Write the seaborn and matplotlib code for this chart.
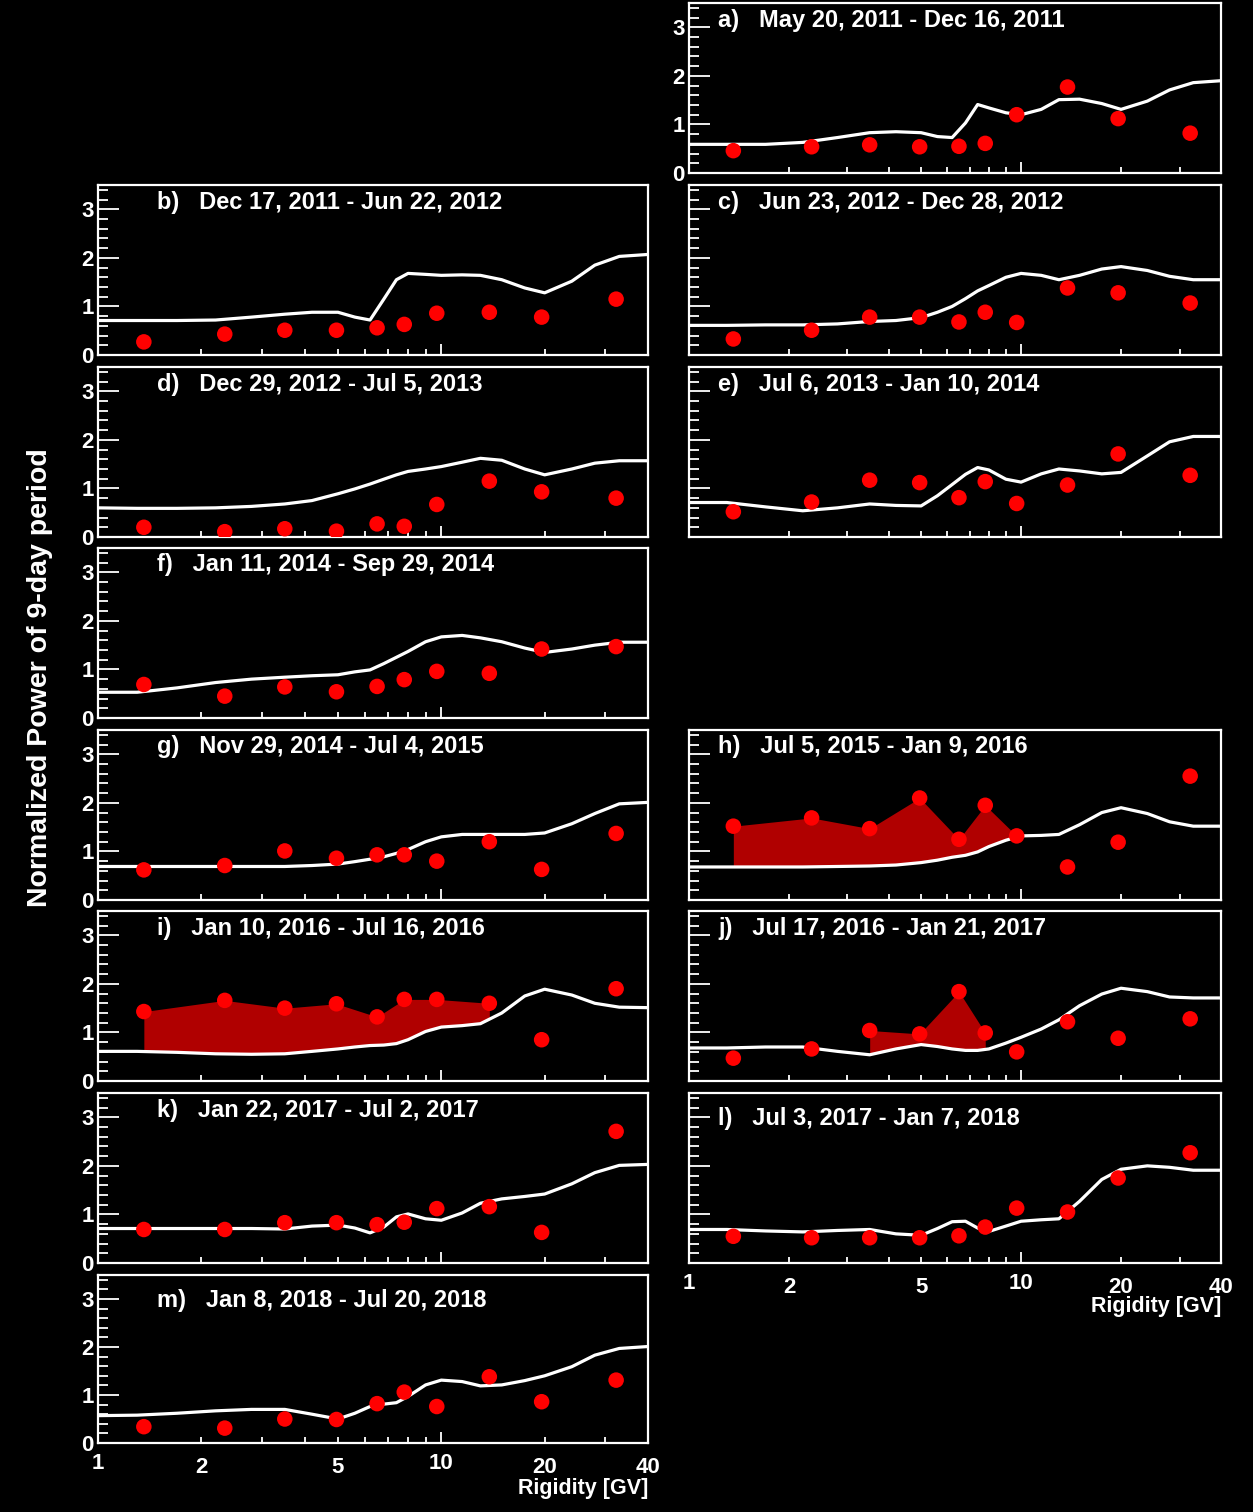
import numpy as np
import pandas as pd
import matplotlib
matplotlib.use("Agg")
import matplotlib.pyplot as plt
from matplotlib.ticker import FixedLocator, FixedFormatter, NullFormatter
import seaborn as sns

# ---------------- data ----------------
RIGIDITY = [1.36, 2.34, 3.5, 4.95, 6.5, 7.8, 9.7, 13.8, 19.6, 32.3]
CURVE_R = [1.0, 1.3, 1.7, 2.2, 2.8, 3.5, 4.2, 5.0, 5.6, 6.2, 6.8, 7.4, 8.0,
           9.0, 10, 11.5, 13, 15, 17.5, 20, 24, 28, 33, 40]

DATES_A = "May 20, 2011 - Dec 16, 2011"
DATES_B = "Dec 17, 2011 - Jun 22, 2012"
DATES_C = "Jun 23, 2012 - Dec 28, 2012"
DATES_D = "Dec 29, 2012 - Jul 5, 2013"
DATES_E = "Jul 6, 2013 - Jan 10, 2014"
DATES_F = "Jan 11, 2014 - Sep 29, 2014"
DATES_G = "Nov 29, 2014 - Jul 4, 2015"
DATES_H = "Jul 5, 2015 - Jan 9, 2016"
DATES_I = "Jan 10, 2016 - Jul 16, 2016"
DATES_J = "Jul 17, 2016 - Jan 21, 2017"
DATES_K = "Jan 22, 2017 - Jul 2, 2017"
DATES_L = "Jul 3, 2017 - Jan 7, 2018"
DATES_M = "Jan 8, 2018 - Jul 20, 2018"

POINTS_A = [0.46, 0.54, 0.58, 0.54, 0.55, 0.61, 1.20, 1.77, 1.12, 0.82]
POINTS_B = [0.27, 0.43, 0.51, 0.51, 0.56, 0.63, 0.86, 0.88, 0.78, 1.15]
POINTS_C = [0.33, 0.51, 0.78, 0.78, 0.68, 0.88, 0.67, 1.38, 1.28, 1.07]
POINTS_D = [0.20, 0.11, 0.17, 0.12, 0.27, 0.22, 0.67, 1.15, 0.93, 0.80]
POINTS_E = [0.52, 0.72, 1.17, 1.12, 0.81, 1.14, 0.69, 1.07, 1.71, 1.27]
POINTS_F = [0.69, 0.45, 0.64, 0.54, 0.65, 0.79, 0.96, 0.92, 1.42, 1.47]
POINTS_G = [0.62, 0.71, 1.01, 0.86, 0.93, 0.93, 0.80, 1.20, 0.63, 1.37]
POINTS_H = [1.52, 1.69, 1.47, 2.10, 1.25, 1.95, 1.32, 0.68, 1.19, 2.55]
POINTS_I = [1.43, 1.66, 1.50, 1.59, 1.32, 1.68, 1.68, 1.60, 0.85, 1.90]
POINTS_J = [0.47, 0.66, 1.04, 0.97, 1.84, 0.99, 0.60, 1.22, 0.88, 1.28]
POINTS_K = [0.69, 0.69, 0.83, 0.83, 0.79, 0.84, 1.12, 1.16, 0.63, 2.71]
POINTS_L = [0.55, 0.52, 0.52, 0.52, 0.56, 0.74, 1.13, 1.05, 1.75, 2.27]
POINTS_M = [0.34, 0.31, 0.50, 0.49, 0.82, 1.06, 0.76, 1.38, 0.86, 1.31]

CURVE_A = [0.59, 0.59, 0.59, 0.63, 0.73, 0.83, 0.85, 0.83, 0.75, 0.73, 1.03, 1.41,
           1.34, 1.24, 1.20, 1.31, 1.51, 1.52, 1.43, 1.31, 1.48, 1.71, 1.86, 1.90]
CURVE_B = [0.71, 0.71, 0.71, 0.72, 0.78, 0.84, 0.88, 0.88, 0.78, 0.72, 1.15, 1.55,
           1.68, 1.66, 1.64, 1.65, 1.64, 1.55, 1.38, 1.28, 1.52, 1.85, 2.03, 2.07]
CURVE_C = [0.61, 0.61, 0.62, 0.62, 0.64, 0.69, 0.71, 0.77, 0.88, 1.00, 1.16, 1.32,
           1.43, 1.60, 1.68, 1.64, 1.55, 1.64, 1.77, 1.82, 1.74, 1.62, 1.55, 1.55]
CURVE_D = [0.60, 0.59, 0.59, 0.60, 0.63, 0.68, 0.75, 0.89, 0.99, 1.09, 1.19, 1.28,
           1.35, 1.40, 1.45, 1.54, 1.62, 1.58, 1.40, 1.28, 1.40, 1.52, 1.57, 1.57]
CURVE_E = [0.71, 0.71, 0.62, 0.54, 0.60, 0.68, 0.65, 0.64, 0.85, 1.08, 1.29, 1.43,
           1.38, 1.19, 1.13, 1.30, 1.40, 1.36, 1.30, 1.33, 1.67, 1.96, 2.07, 2.07]
CURVE_F = [0.53, 0.53, 0.62, 0.73, 0.80, 0.84, 0.87, 0.89, 0.95, 0.99, 1.12, 1.25,
           1.37, 1.57, 1.67, 1.70, 1.65, 1.57, 1.44, 1.35, 1.42, 1.50, 1.56, 1.56]
CURVE_G = [0.69, 0.69, 0.69, 0.69, 0.69, 0.69, 0.71, 0.74, 0.79, 0.84, 0.89, 0.96,
           1.04, 1.20, 1.30, 1.35, 1.35, 1.35, 1.35, 1.38, 1.57, 1.78, 1.98, 2.01]
CURVE_H = [0.68, 0.68, 0.68, 0.68, 0.69, 0.70, 0.72, 0.77, 0.82, 0.88, 0.92, 0.99,
           1.10, 1.23, 1.32, 1.33, 1.35, 1.55, 1.80, 1.90, 1.78, 1.61, 1.52, 1.52]
CURVE_I = [0.61, 0.61, 0.59, 0.56, 0.55, 0.56, 0.61, 0.66, 0.70, 0.73, 0.74, 0.77,
           0.85, 1.02, 1.11, 1.14, 1.18, 1.40, 1.75, 1.89, 1.77, 1.60, 1.52, 1.51]
CURVE_J = [0.68, 0.68, 0.70, 0.70, 0.61, 0.54, 0.66, 0.75, 0.71, 0.66, 0.63, 0.63,
           0.66, 0.78, 0.90, 1.07, 1.26, 1.55, 1.79, 1.91, 1.84, 1.73, 1.71, 1.71]
CURVE_K = [0.71, 0.71, 0.71, 0.71, 0.71, 0.70, 0.76, 0.78, 0.72, 0.62, 0.74, 0.95,
           1.01, 0.91, 0.88, 1.03, 1.23, 1.32, 1.37, 1.42, 1.63, 1.86, 2.01, 2.03]
CURVE_L = [0.69, 0.69, 0.66, 0.64, 0.67, 0.69, 0.60, 0.57, 0.71, 0.85, 0.86, 0.72,
           0.65, 0.76, 0.86, 0.89, 0.91, 1.27, 1.72, 1.93, 2.00, 1.97, 1.91, 1.91]
CURVE_M = [0.57, 0.58, 0.62, 0.67, 0.70, 0.70, 0.60, 0.50, 0.62, 0.76, 0.81, 0.84,
           0.97, 1.21, 1.31, 1.28, 1.19, 1.21, 1.30, 1.40, 1.59, 1.83, 1.97, 2.01]

# index range of data points enclosing the shaded excess region
FILL_H = (0, 6)
FILL_I = (0, 7)
FILL_J = (2, 5)

X_MAJOR = [1, 10]
X_MAJOR_LABELS = ["1", "10"]
X_MINOR = [2, 3, 4, 5, 6, 7, 8, 9, 20, 30, 40]
X_MINOR_LABELS = ["2", "", "", "5", "", "", "", "", "20", "", "40"]
Y_MAJOR = [0, 1, 2, 3]
Y_MINOR = [0.2, 0.4, 0.6, 0.8, 1.2, 1.4, 1.6, 1.8, 2.2, 2.4, 2.6, 2.8, 3.2, 3.4]

# ---------------- layout ----------------
PANELS = [
    ("a", DATES_A, POINTS_A, CURVE_A, None, 1, 0),
    ("b", DATES_B, POINTS_B, CURVE_B, None, 0, 1),
    ("c", DATES_C, POINTS_C, CURVE_C, None, 1, 1),
    ("d", DATES_D, POINTS_D, CURVE_D, None, 0, 2),
    ("e", DATES_E, POINTS_E, CURVE_E, None, 1, 2),
    ("f", DATES_F, POINTS_F, CURVE_F, None, 0, 3),
    ("g", DATES_G, POINTS_G, CURVE_G, None, 0, 4),
    ("h", DATES_H, POINTS_H, CURVE_H, FILL_H, 1, 4),
    ("i", DATES_I, POINTS_I, CURVE_I, FILL_I, 0, 5),
    ("j", DATES_J, POINTS_J, CURVE_J, FILL_J, 1, 5),
    ("k", DATES_K, POINTS_K, CURVE_K, None, 0, 6),
    ("l", DATES_L, POINTS_L, CURVE_L, None, 1, 6),
    ("m", DATES_M, POINTS_M, CURVE_M, None, 0, 7),
]
ROWS_PX = [(3, 173), (185, 355), (367, 537), (548, 718), (730, 900),
           (911, 1081), (1093, 1263), (1275, 1443)]
COLS_PX = [(98, 648), (689, 1221)]
W, H = 1253, 1512

sns.set_theme(style="dark")
plt.rcParams["font.family"] = ["Liberation Sans", "DejaVu Sans"]
plt.rcParams["font.weight"] = "bold"

fig = plt.figure(figsize=(W / 100, H / 100), dpi=100, facecolor="black")

FILL_COLOR = "#b00000"
TICK_FS = 16

for lab, dates, pts, curve, fill, col, row in PANELS:
    x0, x1 = COLS_PX[col]
    t, b = ROWS_PX[row]
    ax = fig.add_axes([x0 / W, 1 - b / H, (x1 - x0) / W, (b - t) / H])
    ax.set_facecolor("black")
    ax.grid(False)
    ax.set_xscale("log")

    df_c = pd.DataFrame({"R": CURVE_R, "P": curve})
    df_p = pd.DataFrame({"R": RIGIDITY, "P": pts})

    if fill is not None:
        s, e = fill
        xd = np.array(RIGIDITY[s:e + 1])
        yd = np.array(pts[s:e + 1])
        cr = np.array(CURVE_R)
        cv = np.array(curve)
        inside = cr[(cr > xd[0]) & (cr < xd[-1])]
        xs = np.sort(np.concatenate([xd, inside]))
        top = np.interp(np.log(xs), np.log(xd), yd)
        bot = np.interp(np.log(xs), np.log(cr), cv)
        ax.fill_between(xs, bot, top, color=FILL_COLOR, lw=0, zorder=1)

    sns.lineplot(data=df_c, x="R", y="P", ax=ax, color="white", lw=2.3,
                 sort=False, estimator=None, zorder=2)
    sns.scatterplot(data=df_p, x="R", y="P", ax=ax, color="#ff0000", s=125,
                    edgecolor="none", linewidth=0, zorder=3)

    ax.set_xlim(1, 40)
    ax.set_ylim(0, 3.5)
    ax.set_xlabel("")
    ax.set_ylabel("")

    for sp in ax.spines.values():
        sp.set_visible(True)
        sp.set_color("white")
        sp.set_linewidth(1.6)

    ax.xaxis.set_major_locator(FixedLocator(X_MAJOR))
    ax.xaxis.set_minor_locator(FixedLocator(X_MINOR))
    ax.yaxis.set_major_locator(FixedLocator(Y_MAJOR))
    ax.yaxis.set_minor_locator(FixedLocator(Y_MINOR))

    if lab in ("l", "m"):
        ax.xaxis.set_major_formatter(FixedFormatter(X_MAJOR_LABELS))
        ax.xaxis.set_minor_formatter(FixedFormatter(X_MINOR_LABELS))
    else:
        ax.xaxis.set_major_formatter(NullFormatter())
        ax.xaxis.set_minor_formatter(NullFormatter())
    if col == 0 or lab == "a":
        ax.yaxis.set_major_formatter(FixedFormatter(["0", "1", "2", "3"]))
    else:
        ax.yaxis.set_major_formatter(NullFormatter())
    ax.yaxis.set_minor_formatter(NullFormatter())

    ax.tick_params(axis="x", which="major", direction="in", length=8, width=1.3,
                   color="white", labelcolor="white", labelsize=TICK_FS, pad=7,
                   bottom=True, top=False)
    ax.tick_params(axis="x", which="minor", direction="in", length=4, width=1.3,
                   color="white", labelcolor="white", labelsize=TICK_FS, pad=10,
                   bottom=True, top=False)
    ax.tick_params(axis="y", which="major", direction="in", length=15, width=1.3,
                   color="white", labelcolor="white", labelsize=TICK_FS, pad=3,
                   left=True, right=False)
    ax.tick_params(axis="y", which="minor", direction="in", length=7, width=1.3,
                   color="white", left=True, right=False)
    for tl in ax.get_xticklabels(which="both") + ax.get_yticklabels():
        tl.set_fontweight("bold")

    tx = 0.107 if col == 0 else 0.055
    ty = 0.85 if lab in ("l", "m") else 0.90
    ax.text(tx, ty, f"{lab})   {dates}", transform=ax.transAxes,
            color="white", fontsize=17, fontweight="bold", va="center", ha="left")

fig.text(40 / W, 1 - 678 / H, "Normalized Power of 9-day period", rotation=90,
         color="white", fontsize=20.5, fontweight="bold", ha="center", va="center")
fig.text(648 / W, 1 - 1499 / H, "Rigidity [GV]", color="white", fontsize=15.5,
         fontweight="bold", ha="right", va="bottom")
fig.text(1221 / W, 1 - 1317 / H, "Rigidity [GV]", color="white", fontsize=15.5,
         fontweight="bold", ha="right", va="bottom")

fig.savefig("out.png", dpi=100, facecolor="black")
